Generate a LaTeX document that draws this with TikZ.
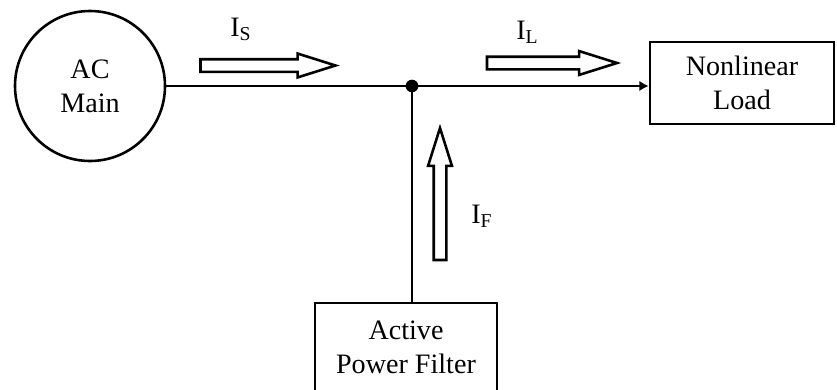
\documentclass[tikz,border=0pt]{standalone}
\usepackage{fontspec}
\setmainfont{Liberation Serif}
\usetikzlibrary{arrows.meta,shapes.arrows,positioning}
\tikzset{
 apf text/.style={font=\fontsize{24}{29}\selectfont,align=center},
 apf block/.style={apf text,draw,rectangle,inner sep=0pt},
 apf source/.style={apf text,draw,circle,minimum size=4.5cm,inner sep=0pt},
 apf flow/.style={single arrow,draw,fill=white,inner sep=.15cm,
                  single arrow head extend=.17cm,single arrow tip angle=35},
 apf dot/.style={circle,fill=black,minimum size=.38cm,inner sep=0pt,outer sep=0pt},
 apf label/.style={font=\fontsize{24}{29}\selectfont,inner sep=0pt,anchor=base west}
}
\begin{document}
\begin{tikzpicture}[x=.03cm,y=-.03cm,line width=2.2pt]
 \useasboundingbox (0,0) rectangle (837,389);
 \clip (0,0) rectangle (837,389);
 \node[apf source] (ac) at (90,86) {AC\\Main};
 \node[apf block,minimum width=5.52cm,minimum height=2.46cm] (load) at (742,83) {Nonlinear\\Load};
 \node[apf block,minimum width=5.46cm,minimum height=2.64cm] (apf) at (406,347) {Active\\Power Filter};
 \node[apf dot] (jn) at (412,86) {};

 \draw[-{Latex[length=8pt,width=9pt]}] (ac.east) -- (ac.east -| load.west);
 \draw (jn) -- (jn |- apf.north);

 % current arrows
 \node[apf flow,minimum height=4.05cm] (is) at (258,65.5) {};
 \node[apf flow,minimum height=3.9cm] (il) at (542,63) {};
 \node[apf flow,minimum height=3.96cm,rotate=90] (if) at (440,204) {};
 \node[apf label] (is label) at (229,36) {I\textsubscript{S}};
 \node[apf label] (il label) at (515,39) {I\textsubscript{L}};
 \node[apf label] (if label) at (470,223) {I\textsubscript{F}};
\end{tikzpicture}
\end{document}
